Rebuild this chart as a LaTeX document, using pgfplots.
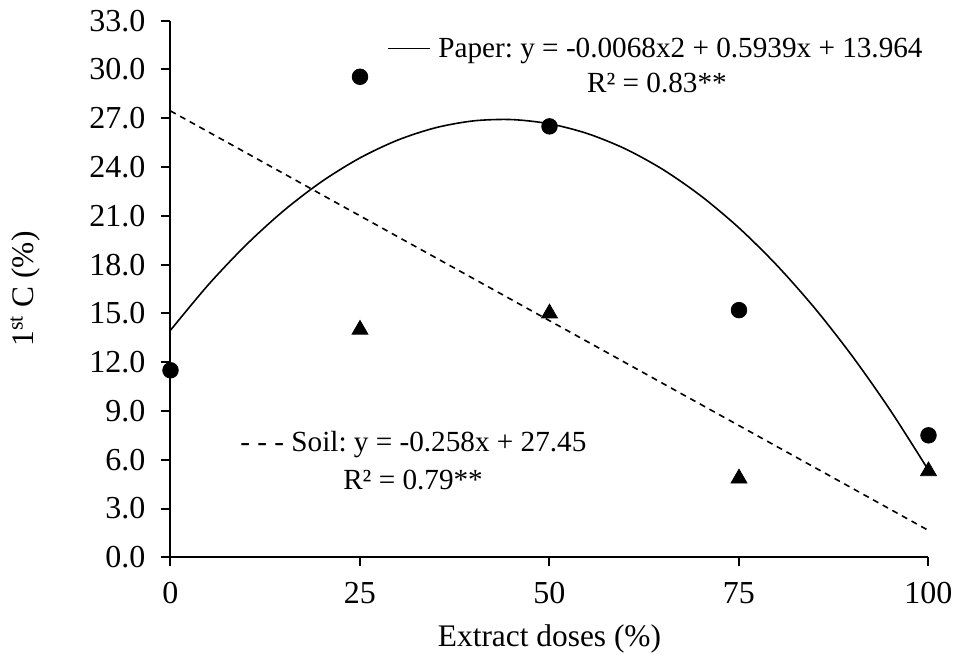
\documentclass[border=0pt]{standalone}
\usepackage{pgfplots}
\pgfplotsset{compat=1.18}
\usepackage{fontspec}
\setmainfont{Liberation Serif}
\begin{document}
\frenchspacing
\begin{tikzpicture}
\path[use as bounding box] (-85.25pt,-49.85pt) rectangle (392.25pt,278.65pt);
\begin{axis}[
  at={(0,0)}, anchor=south west,
  scale only axis, width=379pt, height=268.3pt,
  xmin=0, xmax=100, ymin=0, ymax=33,
  axis x line*=bottom, axis y line*=left,
  axis line style={line width=1pt, black},
  xtick={0,25,50,75,100},
  ytick={0,3,...,33},
  tick align=outside, major tick length=4.5pt,
  tick style={line width=1pt, black},
  /pgf/number format/assume math mode=true,
  yticklabel style={/pgf/number format/fixed, /pgf/number format/fixed zerofill, /pgf/number format/precision=1, xshift=-4.5pt},
  xticklabel style={yshift=-4.5pt},
  ticklabel style={font=\fontsize{16}{19}\selectfont},
  label style={font=\fontsize{15.7}{19}\selectfont},
  xlabel={Extract doses (\%)},
  ylabel={1\textsuperscript{st} C (\%)},
  xlabel style={at={(axis description cs:0.5,-0.153)}, anchor=center},
  ylabel style={at={(axis description cs:-0.192,0.5)}, anchor=center},
  clip=false,
]
% Paper trendline (quadratic fit values)
\addplot[black, line width=0.8pt, smooth] coordinates {
(0,13.964) (5,16.7635) (10,19.223) (15,21.3425) (20,23.122) (25,24.5615)
(30,25.661) (35,26.4205) (40,26.84) (45,26.9195) (50,26.659) (55,26.0585)
(60,25.118) (65,23.8375) (70,22.217) (75,20.2565) (80,17.956) (85,15.3155)
(90,12.335) (95,9.0145) (100,5.354)};
% Soil trendline
\addplot[black, line width=0.8pt, dash pattern=on 3pt off 2.5pt] coordinates {(0,27.45) (100,1.65)};
% Soil data
\addplot[only marks, mark=triangle*, mark size=4.6pt, black] coordinates {
(25,14.0) (50,15.0) (75,4.85) (100,5.3)};
% Paper data
\addplot[only marks, mark=*, mark size=3.9pt, black] coordinates {
(0,11.5) (25,29.55) (50,26.5) (75,15.2) (100,7.5)};
\node[anchor=base west, inner sep=0, font=\fontsize{14.6}{17}\selectfont] at (axis cs:28.7,30.71)
  {\rule[4.3pt]{21pt}{0.8pt}\hspace{4pt}Paper: y = -0.0068x2 + 0.5939x + 13.964};
\node[anchor=base, inner sep=0, font=\fontsize{14.6}{17}\selectfont] at (axis cs:64.18,28.57) {R² = 0.83**};
\node[anchor=base west, inner sep=0, font=\fontsize{14.6}{17}\selectfont] at (axis cs:9.17,6.49) {- - - Soil: y = -0.258x + 27.45};
\node[anchor=base, inner sep=0, font=\fontsize{14.6}{17}\selectfont] at (axis cs:32.0,4.14) {R² = 0.79**};
\end{axis}
\end{tikzpicture}
\end{document}
